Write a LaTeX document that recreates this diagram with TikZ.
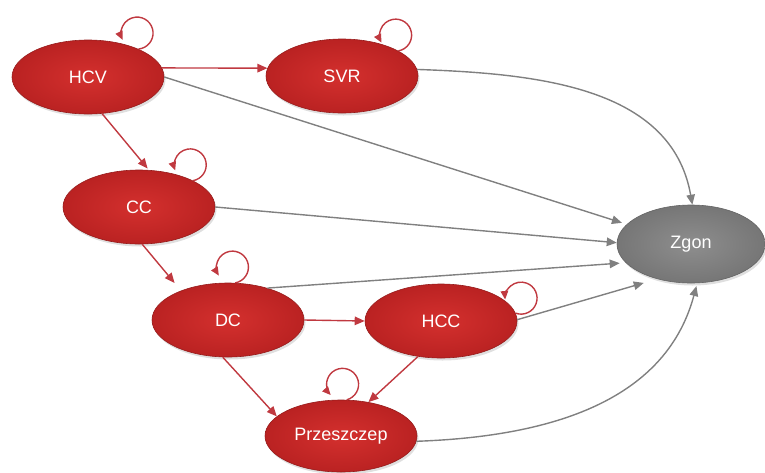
\documentclass[tikz,border=0pt]{standalone}
\usepackage{fontspec}
\setmainfont{Liberation Sans}
\usetikzlibrary{arrows.meta,shapes.geometric,shadows}
\definecolor{redline}{RGB}{192,57,64}
\definecolor{grayline}{RGB}{128,128,128}
\definecolor{redin}{RGB}{212,48,46}
\definecolor{redout}{RGB}{186,34,34}
\definecolor{redborder}{RGB}{150,28,28}
\definecolor{grayin}{RGB}{142,142,142}
\definecolor{grayout}{RGB}{118,118,118}
\definecolor{grayborder}{RGB}{100,100,100}
\begin{document}
\begin{tikzpicture}[x=1pt,y=1pt,
  state/.style={ellipse, minimum width=152pt, minimum height=74pt, inner sep=0pt,
    text=white, font=\fontsize{18}{20}\selectfont,
    inner color=redin, outer color=redout, draw=redborder, line width=0.6pt,
    drop shadow={opacity=0.25, shadow xshift=1.5pt, shadow yshift=-2.5pt}},
  endstate/.style={state, minimum width=148pt, minimum height=78pt,
    inner color=grayin, outer color=grayout, draw=grayborder},
  redarrow/.style={draw=redline, line width=1.4pt, -{Triangle[length=10pt,width=8.5pt]}},
  grayarrow/.style={draw=grayline, line width=1.4pt, -{Triangle[length=10pt,width=8.5pt]}},
  selfloop/.style={draw=redline, line width=1.4pt, -{Triangle[length=8.5pt,width=7.5pt]}}]
\useasboundingbox (0,0) rectangle (765,-472);
\node[state] (HCV) at (88,-77) {HCV};
\node[state] (SVR) at (342,-76) {SVR};
\node[state] (CC) at (139,-207) {CC};
\node[state] (DC) at (228,-320) {DC};
\node[state] (HCC) at (441,-321) {HCC};
\node[state, minimum height=72pt] (Prz) at (341,-436) {Przeszczep};
\node[endstate] (Zgon) at (691,-244) {Zgon};

\draw[redarrow] (HCV.7) -- (SVR.174);
\draw[redarrow, shorten >=2pt] (HCV.-69) -- (CC.75);
\draw[grayarrow, shorten >=5pt] (HCV.east) -- (Zgon.163);
\draw[grayarrow] (SVR.5) to[out=-2, in=100] (Zgon.88);
\draw[grayarrow] (CC.east) -- (Zgon.179);
\draw[redarrow, shorten >=10pt] (CC.-85) -- (DC.148);
\draw[grayarrow, shorten >=6pt] (DC.39) -- (Zgon.196);
\draw[redarrow] (DC.east) -- (HCC.west);
\draw[redarrow] (DC.-98) -- (Prz.163);
\draw[grayarrow, shorten >=14pt] (HCC.1) -- (Zgon.226);
\draw[redarrow] (HCC.-123) -- (Prz.51);
\draw[grayarrow, shorten >=3pt] (Prz.-4) to[out=2, in=-105] (Zgon.-81);

\draw[selfloop] (HCV.29) arc[start angle=-85, end angle=205, radius=16pt];
\draw[selfloop] (SVR.24) arc[start angle=-80, end angle=208, radius=16pt];
\draw[selfloop] (CC.26) arc[start angle=-80, end angle=200, radius=16pt];
\draw[selfloop] (DC.79) arc[start angle=-80, end angle=212, radius=16pt];
\draw[selfloop] (HCC.6) arc[start angle=-110, end angle=185, radius=16pt];
\draw[selfloop] (Prz.81) arc[start angle=-75, end angle=222, radius=16pt];
\end{tikzpicture}
\end{document}
